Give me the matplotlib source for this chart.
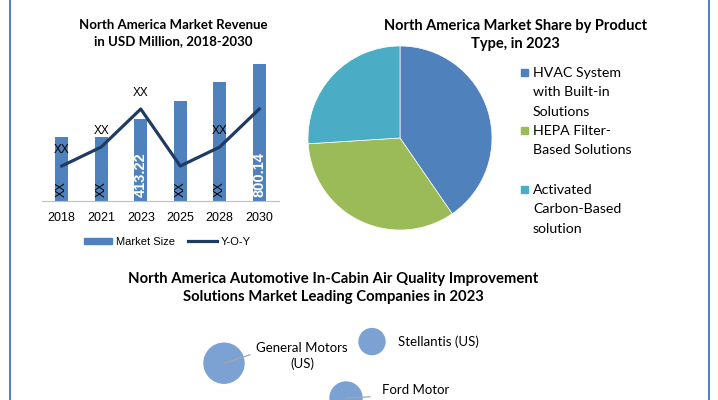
import numpy as np
import matplotlib.pyplot as plt
from matplotlib.lines import Line2D
from matplotlib.patches import Patch

# revenue chart
years = ["2018", "2021", "2023", "2025", "2028", "2030"]
market_size = [374, 374, 479, 584, 695, 800.14]
size_labels = ["XX", "XX", "413.22", "XX", "XX", "800.14"]
yoy = [3.5, 5.4, 9.2, 3.5, 5.4, 9.2]
yoy_labels = ["XX", "XX", "XX", "", "XX", ""]

# product share pie
products = ["HVAC System\nwith Built-in\nSolutions", "HEPA Filter-\nBased Solutions",
            "Activated\nCarbon-Based\nsolution"]
shares = [40.4, 33.6, 26.0]

# leading companies bubbles
companies = ["General Motors\n(US)", "Stellantis (US)", "Ford Motor"]
comp_x = [1.85, 5.55, 4.9]
comp_y = [6.4, 8.2, 3.5]
comp_size = [830, 350, 530]

BLUE = "#4F81BD"
GREEN = "#9BBB59"
CYAN = "#4BACC6"
NAVY = "#1F3B63"
BUBBLE = "#7BA2D2"
W, H = 718, 400

calibri = ["Lato", "DejaVu Sans"]
arial = ["Liberation Sans", "DejaVu Sans"]

fig = plt.figure(figsize=(W / 100, H / 100), dpi=100)


def box(x0, y0, x1, y1):
    # pixel box (top-left origin) -> figure fraction rect
    return [x0 / W, 1 - y1 / H, (x1 - x0) / W, (y1 - y0) / H]


# border lines
for xp in (9.5, 708.5):
    fig.add_artist(Line2D([xp / W, xp / W], [0, 1], color="#4472C4", lw=1.3))

# ---- bar + line chart
ax = fig.add_axes(box(42, 60, 279, 201))
x = np.arange(len(years))
ax.bar(x, market_size, width=0.33, color=BLUE, zorder=1)
ax.set_xlim(-0.5, len(years) - 0.5)
ax.set_ylim(0, 825)
ax.set_yticks([])
for s in ["top", "right", "left"]:
    ax.spines[s].set_visible(False)
ax.spines["bottom"].set_color("#BFBFBF")
ax.set_xticks(x)
ax.set_xticklabels(years, family=arial, fontsize=9)
ax.tick_params(axis="x", length=0, pad=8)
for xi, lab in zip(x, size_labels):
    white = lab != "XX"
    ax.text(xi, 22, lab, rotation=90, ha="center", va="bottom",
            family=arial, fontsize=10.5 if white else 8.5,
            fontweight="bold" if white else "normal",
            color="white" if white else "black", zorder=4)

ax2 = ax.twinx()
ax2.plot(x, yoy, color=NAVY, lw=2.3, zorder=3)
ax2.set_ylim(0, 14.1)
ax2.axis("off")
for xi, v, lab in zip(x, yoy, yoy_labels):
    if lab:
        ax2.text(xi, v + 1.0, lab, ha="center", va="bottom",
                 family=arial, fontsize=8.5, color="black")

fig.text(173 / W, 1 - 33 / H, "North America Market Revenue\nin USD Million, 2018-2030",
         ha="center", va="center", family=calibri, fontweight="bold",
         fontsize=9.5, linespacing=1.4)

handles = [Patch(color=BLUE), Line2D([], [], color=NAVY, lw=2.3)]
fig.legend(handles, ["Market Size", "Y-O-Y"], loc="center",
           bbox_to_anchor=(167 / W, 1 - 242 / H), ncol=2, frameon=False,
           prop={"family": arial, "size": 8}, handlelength=2.6,
           handleheight=0.5, handletextpad=0.3, columnspacing=1.2)

# ---- pie chart
axp = fig.add_axes(box(308, 46, 492, 230))
axp.pie(shares, colors=[BLUE, GREEN, CYAN], startangle=90, counterclock=False,
        wedgeprops={"linewidth": 0.5, "edgecolor": "white"})
axp.set_xlim(-1.0, 1.0)
axp.set_ylim(-1.0, 1.0)
axp.set_aspect("equal")

fig.text(515 / W, 1 - 35 / H, "North America Market Share by Product\nType, in 2023",
         ha="center", va="center", family=calibri, fontweight="bold",
         fontsize=10.5, linespacing=1.4)

legend_y = [72, 130, 189]
for yp, lab, col in zip(legend_y, products, [BLUE, GREEN, CYAN]):
    fig.patches.append(plt.Rectangle((521 / W, 1 - (yp + 4) / H), 7 / W, 7 / H,
                                     color=col, transform=fig.transFigure))
    fig.text(533 / W, 1 - (yp - 5) / H, lab, ha="left", va="top",
             family=calibri, fontsize=10.2, linespacing=1.74)

# ---- leading companies bubbles
axb = fig.add_axes(box(150, 320, 550, 440))
axb.set_xlim(0, 10)
axb.set_ylim(0, 10)
axb.axis("off")
axb.scatter(comp_x, comp_y, s=comp_size, color=BUBBLE, zorder=2, clip_on=False)
label_pos = [(3.8, 7.0), (6.2, 8.2), (5.8, 4.2)]
leader_end = [(2.5, 7.1), None, (5.5, 3.6)]
for cx, cy, lab, (lx, ly), le in zip(comp_x, comp_y, companies, label_pos, leader_end):
    if le is not None:
        axb.plot([cx, le[0]], [cy, le[1]], color="#A6A6A6", lw=0.9, zorder=3,
                 clip_on=False)
    axb.text(lx, ly, lab, ha="center" if "\n" in lab else "left", va="center",
             family=calibri, fontsize=9.5, linespacing=1.4, clip_on=False)

fig.text(333 / W, 1 - 288 / H,
         "North America Automotive In-Cabin Air Quality Improvement\n"
         "Solutions Market Leading Companies in 2023",
         ha="center", va="center", family=calibri, fontweight="bold",
         fontsize=10.7, linespacing=1.4)

fig.savefig("out.png", dpi=100)
